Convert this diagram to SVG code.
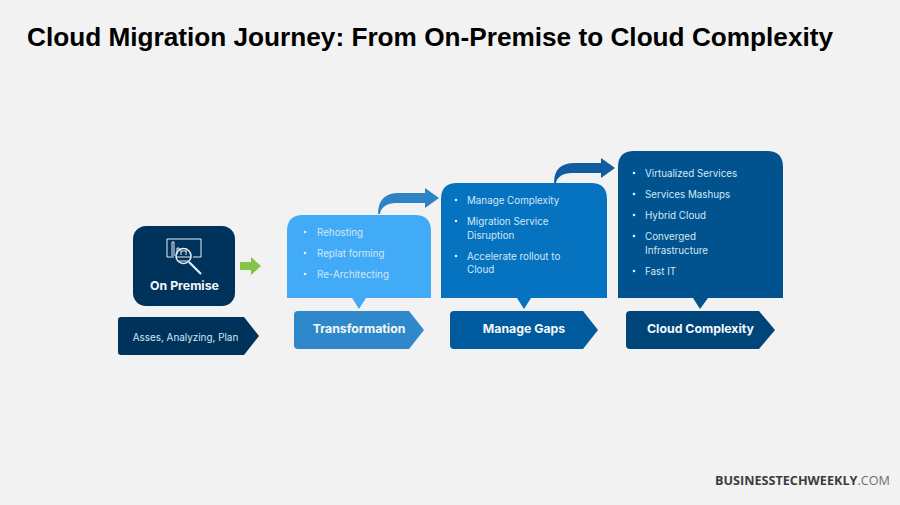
<svg xmlns="http://www.w3.org/2000/svg" width="900" height="505" viewBox="0 0 900 505">
<style>
.title{font-family:"Liberation Sans",Arial,sans-serif;font-size:26.2px;font-weight:700;fill:#000}
.b{font-family:"Inter","Liberation Sans",sans-serif;font-size:9.8px;fill:#d3e7f6}
.h{font-family:"Inter","Liberation Sans",sans-serif;font-size:12.3px;font-weight:700;fill:#f4f8fb;text-anchor:middle}
.a{font-family:"Inter","Liberation Sans",sans-serif;font-size:9.9px;fill:#d3e7f6;text-anchor:middle}
.d{fill:#e4f0fa}
</style>
<rect width="900" height="505" fill="#f2f2f2"/>
<text class="title" x="27" y="46">Cloud Migration Journey: From On-Premise to Cloud Complexity</text>
<g id="connectors">
<path d="M378 214C378 200 385 193 399 193H425V188L439 198L425 208V203H396C387 203 381 207 380 214Z" fill="#2e83c4"/>
<path d="M554 183C554 169 561 163 575 163H601V158L615 168L601 178V173H572C563 173 557 177 556 183Z" fill="#0f5c9f"/>
<path d="M240 262H251V257L261 266L251 275V270H240Z" fill="#84c44a"/>
</g>
<g id="on-premise">
<rect x="133" y="226" width="102" height="80" rx="13" fill="#00335c"/>
<g fill="none" stroke="#e8eef4" stroke-width="1">
<path d="M174 257H167V239H201V257H193"/>
<path d="M172 256V242H174V256"/>
<path d="M177 254V248H179V251"/>
<circle cx="183.500" cy="256" r="7.500" stroke-width="1.600"/>
<path d="M177 257H190M179 261H188M180 251H187M181 251V255M186 251V255"/>
<path d="M189 262L201 274" stroke-width="2.200"/>
</g>
<text class="h" x="184.500" y="290">On Premise</text>
</g>
<g id="asses">
<path d="M121 317H244L259 336L244 355H121Q118 355 118 352V320Q118 317 121 317Z" fill="#00335c"/>
<text class="a" x="185.500" y="341">Asses, Analyzing, Plan</text>
</g>
<g id="transformation-list">
<path d="M287 298V231Q287 215 303 215H415Q431 215 431 231V298H366L359 309L352 298Z" fill="#42abf7"/>
<circle class="d" cx="305" cy="232" r="1.300"/><text class="b" x="317" y="236">Rehosting</text>
<circle class="d" cx="305" cy="253" r="1.300"/><text class="b" x="317" y="257">Replat forming</text>
<circle class="d" cx="305" cy="274" r="1.300"/><text class="b" x="317" y="278">Re-Architecting</text>
</g>
<g id="transformation">
<path d="M298 311H409L424 330L409 349H298Q294 349 294 345V315Q294 311 298 311Z" fill="#2f88c9"/>
<text class="h" x="359" y="333">Transformation</text>
</g>
<g id="manage-gaps-list">
<path d="M441 298V199Q441 183 457 183H591Q607 183 607 199V298H531L524 309L517 298Z" fill="#0673c0"/>
<circle class="d" cx="456" cy="200" r="1.300"/><text class="b" x="467" y="204">Manage Complexity</text>
<circle class="d" cx="456" cy="221" r="1.300"/><text class="b" x="467" y="225">Migration Service</text><text class="b" x="467" y="239">Disruption</text>
<circle class="d" cx="456" cy="256" r="1.300"/><text class="b" x="467" y="260">Accelerate rollout to</text><text class="b" x="467" y="273">Cloud</text>
</g>
<g id="manage-gaps">
<path d="M454 311H583L598 330L583 349H454Q450 349 450 345V315Q450 311 454 311Z" fill="#005a9e"/>
<text class="h" x="524" y="333">Manage Gaps</text>
</g>
<g id="cloud-complexity-list">
<path d="M618 298V167Q618 151 634 151H767Q783 151 783 167V298H708L700 309L693 298Z" fill="#00538f"/>
<circle class="d" cx="634" cy="173" r="1.300"/><text class="b" x="645" y="177">Virtualized Services</text>
<circle class="d" cx="634" cy="194" r="1.300"/><text class="b" x="645" y="198">Services Mashups</text>
<circle class="d" cx="634" cy="215" r="1.300"/><text class="b" x="645" y="219">Hybrid Cloud</text>
<circle class="d" cx="634" cy="236" r="1.300"/><text class="b" x="645" y="240">Converged</text><text class="b" x="645" y="254">Infrastructure</text>
<circle class="d" cx="634" cy="271" r="1.300"/><text class="b" x="645" y="275">Fast IT</text>
</g>
<g id="cloud-complexity">
<path d="M630 311H759L775 330L759 349H630Q626 349 626 345V315Q626 311 630 311Z" fill="#004579"/>
<text class="h" x="700.500" y="333">Cloud Complexity</text>
</g>
<text x="715" y="485" style="font-family:'Open Sans','Liberation Sans',sans-serif;font-size:12.65px;font-weight:700;fill:#3d3d3d">BUSINESSTECHWEEKLY<tspan style="font-weight:400;fill:#6e6e6e">.COM</tspan></text>
</svg>
